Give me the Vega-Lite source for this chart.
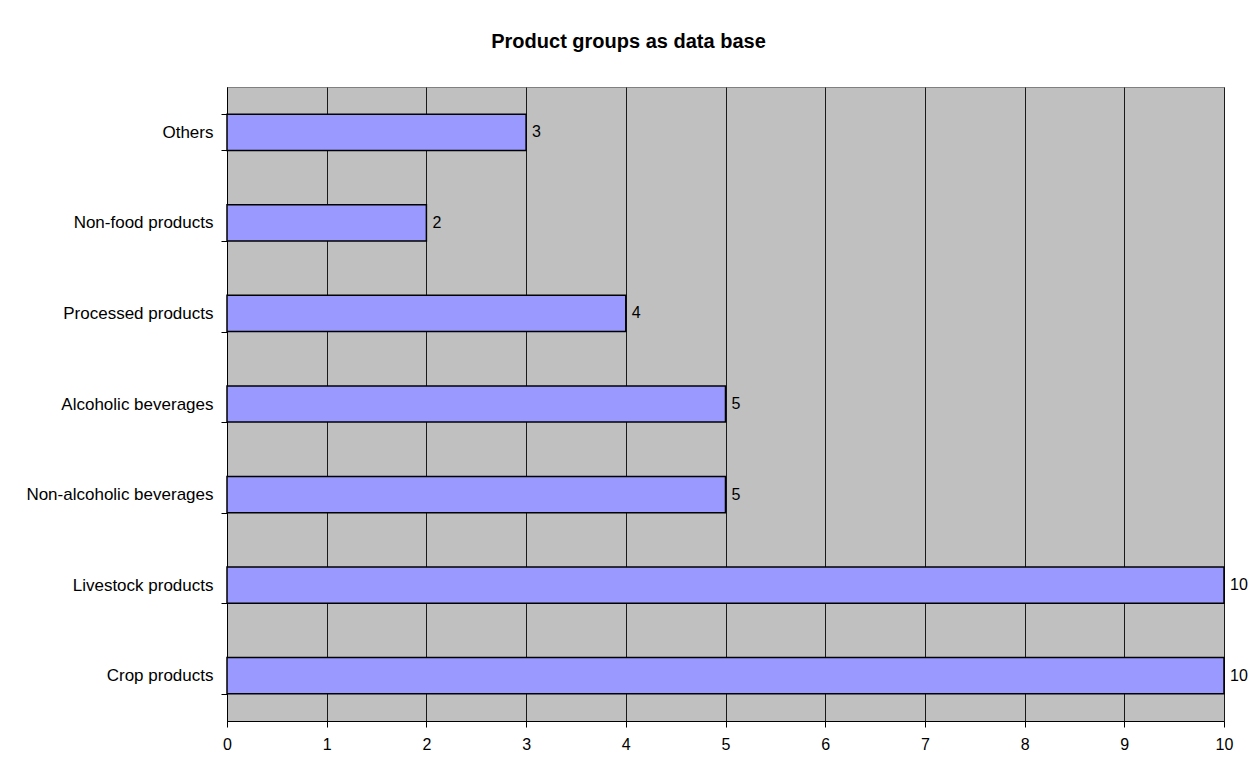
{
  "$schema": "https://vega.github.io/schema/vega-lite/v6.json",
  "width": 997,
  "height": 634,
  "autosize": {"type": "none"},
  "padding": {"left": 227, "top": 87, "right": 34, "bottom": 61},
  "background": "white",
  "title": {
    "text": "Product groups as data base",
    "font": "Liberation Sans",
    "fontSize": 20,
    "fontWeight": "bold",
    "color": "black",
    "anchor": "middle",
    "dx": -97,
    "baseline": "alphabetic",
    "offset": 10
  },
  "config": {
    "font": "Liberation Sans",
    "view": {"fill": "#C0C0C0", "stroke": "#808080", "strokeWidth": 1}
  },
  "data": {
    "values": [
      {"group": "Others", "count": 3},
      {"group": "Non-food products", "count": 2},
      {"group": "Processed products", "count": 4},
      {"group": "Alcoholic beverages", "count": 5},
      {"group": "Non-alcoholic beverages", "count": 5},
      {"group": "Livestock products", "count": 10},
      {"group": "Crop products", "count": 10}
    ]
  },
  "encoding": {
    "y": {
      "field": "group",
      "type": "nominal",
      "sort": null,
      "scale": {"paddingInner": 0.6, "paddingOuter": 0.3},
      "axis": {
        "title": null,
        "tickBand": "extent",
        "grid": false,
        "domainColor": "black",
        "tickColor": "black",
        "tickSize": 6,
        "labelPadding": 8,
        "labelFontSize": 17,
        "labelLimit": 0,
        "labelColor": "black",
        "labelFont": "Liberation Sans"
      }
    },
    "x": {
      "field": "count",
      "type": "quantitative",
      "scale": {"domain": [0, 10], "nice": false},
      "axis": {
        "title": null,
        "values": [0, 1, 2, 3, 4, 5, 6, 7, 8, 9, 10],
        "grid": true,
        "gridColor": "#1a1a1a",
        "gridOpacity": 1,
        "domainColor": "black",
        "tickColor": "black",
        "tickSize": 6,
        "labelPadding": 9,
        "labelFontSize": 16,
        "labelColor": "black",
        "labelFont": "Liberation Sans",
        "labelFlush": false
      }
    }
  },
  "layer": [
    {
      "mark": {"type": "bar", "color": "#9999FF", "stroke": "black", "strokeWidth": 1.5}
    },
    {
      "mark": {
        "type": "text",
        "align": "left",
        "baseline": "middle",
        "dx": 6,
        "fontSize": 16,
        "color": "black",
        "font": "Liberation Sans"
      },
      "encoding": {"text": {"field": "count", "type": "quantitative"}}
    }
  ]
}
